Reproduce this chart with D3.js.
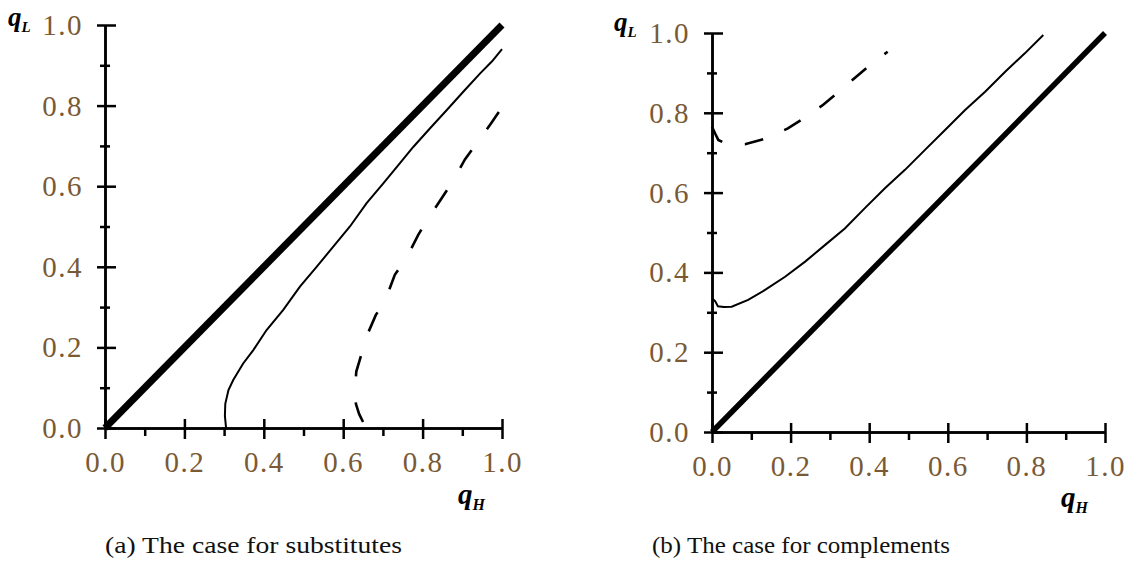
<!DOCTYPE html>
<html>
<head>
<meta charset="utf-8">
<script src="https://cdn.jsdelivr.net/npm/d3@7/dist/d3.min.js"></script>
<style>
    body { margin: 0; background: #fff; }
    .tick text { font-family: "Liberation Serif", serif; font-size: 29px; letter-spacing: 1.5px; fill: #7a5a35; }
    .qlab { font-family: "Liberation Serif", serif; font-weight: bold; font-style: italic; fill: #000; }
    .caption { font-family: "Liberation Serif", serif; font-size: 24px; fill: #111; }
</style>
</head>
<body>
<svg id="chart" width="1129" height="575"></svg>
<script>
/* Two panels of q_L against q_H.
 * (a) substitutes, (b) complements.
 * Each panel has the 45 degree line (thick), one solid curve and one dashed curve.
 */

var majorTicks = [0, 0.2, 0.4, 0.6, 0.8, 1.0];
var minorTicks = [0.1, 0.3, 0.5, 0.7, 0.9];
var tickLabels = ["0.0", "0.2", "0.4", "0.6", "0.8", "1.0"];

// 45 degree line, both panels
var diagH = [0, 1];
var diagL = [0, 1];

// (a) substitutes
var subsSolidH = [0.305, 0.302, 0.303, 0.311, 0.323, 0.348, 0.374, 0.407, 0.449, 0.491, 0.533, 0.575, 0.617, 0.659, 0.701, 0.743, 0.777, 0.82, 0.861, 0.903, 0.945, 0.975, 1.0];
var subsSolidL = [0.0, 0.03, 0.06, 0.094, 0.119, 0.16, 0.194, 0.243, 0.293, 0.351, 0.40, 0.45, 0.50, 0.558, 0.607, 0.657, 0.698, 0.745, 0.789, 0.835, 0.88, 0.91, 0.94];
var subsDashH = [0.65, 0.64, 0.632, 0.630, 0.633, 0.645, 0.657, 0.682, 0.708, 0.730, 0.760, 0.789, 0.810, 0.848, 0.877, 0.907, 0.936, 0.974, 1.0];
var subsDashL = [0.015, 0.035, 0.06, 0.10, 0.14, 0.18, 0.223, 0.280, 0.322, 0.380, 0.423, 0.479, 0.514, 0.570, 0.614, 0.667, 0.706, 0.758, 0.796];

// (b) complements
var compSolidH = [0.0, 0.008, 0.015, 0.03, 0.05, 0.092, 0.135, 0.186, 0.237, 0.288, 0.338, 0.389, 0.44, 0.491, 0.542, 0.593, 0.644, 0.695, 0.746, 0.796, 0.843];
var compSolidL = [0.335, 0.328, 0.315, 0.313, 0.314, 0.331, 0.356, 0.389, 0.427, 0.469, 0.51, 0.561, 0.611, 0.657, 0.707, 0.757, 0.807, 0.853, 0.903, 0.949, 0.995];
var compDashH = [0.0, 0.008, 0.016, 0.03, 0.05, 0.084, 0.139, 0.193, 0.237, 0.283, 0.323, 0.364, 0.41, 0.447];
var compDashL = [0.765, 0.748, 0.732, 0.725, 0.721, 0.721, 0.736, 0.761, 0.788, 0.82, 0.853, 0.888, 0.926, 0.953];

var svg = d3.select("#chart");

function zip(xs, ys) {
    return xs.map(function(x, i) { return [x, ys[i]]; });
}

/* Draw one panel. p holds the pixel box and the curves. */
function drawPanel(p) {
    var x = d3.scaleLinear().domain([0, 1]).range([p.x0, p.x1]);
    var y = d3.scaleLinear().domain([0, 1]).range([p.y0, p.y1]);
    var g = svg.append("g");

    var line = d3.line()
        .x(function(d) { return x(d[0]); })
        .y(function(d) { return y(d[1]); });

    // axes: major ticks cross the line, minor ticks are short
    var xAxis = g.append("g").attr("transform", "translate(0," + p.y0 + ")")
        .call(d3.axisBottom(x).tickValues(majorTicks).tickFormat(function(d, i) { return tickLabels[i]; }).tickSizeOuter(0));
    xAxis.selectAll(".tick line").attr("y1", -9).attr("y2", 11).attr("stroke-width", 2.5);
    xAxis.selectAll(".tick text").attr("y", 44).attr("dy", 0);

    var xMinor = g.append("g").attr("transform", "translate(0," + p.y0 + ")")
        .call(d3.axisBottom(x).tickValues(minorTicks).tickFormat("").tickSize(8).tickSizeOuter(0));
    xMinor.selectAll(".tick line").attr("stroke-width", 2.5);

    var yAxis = g.append("g").attr("transform", "translate(" + p.x0 + ",0)")
        .call(d3.axisLeft(y).tickValues(majorTicks).tickFormat(function(d, i) { return tickLabels[i]; }).tickSizeOuter(0));
    yAxis.selectAll(".tick line").attr("x1", -8).attr("x2", 11).attr("stroke-width", 2.5);
    yAxis.selectAll(".tick text").attr("x", -22).attr("dy", "0.33em");

    var yMinor = g.append("g").attr("transform", "translate(" + p.x0 + ",0)")
        .call(d3.axisLeft(y).tickValues(minorTicks).tickFormat("").tickSizeOuter(0));
    yMinor.selectAll(".tick line").attr("x1", -5).attr("x2", 5).attr("stroke-width", 2.5);

    g.selectAll(".domain").attr("stroke-width", 2.5).attr("stroke", "#000");
    g.selectAll(".tick line").attr("stroke", "#000");

    // curves
    g.append("path").datum(zip(diagH, diagL))
        .attr("d", line).attr("fill", "none").attr("stroke", "#000")
        .attr("stroke-width", p.diagWidth);

    g.append("path").datum(zip(p.solidH, p.solidL))
        .attr("d", line).attr("fill", "none").attr("stroke", "#000")
        .attr("stroke-width", 2);

    g.append("path").datum(zip(p.dashH, p.dashL))
        .attr("d", line).attr("fill", "none").attr("stroke", "#000")
        .attr("stroke-width", 2.6).attr("stroke-dasharray", p.dash);

    // axis titles
    var ql = g.append("text").attr("class", "qlab").attr("x", p.qL[0]).attr("y", p.qL[1]);
    ql.append("tspan").attr("font-size", 27).text("q");
    ql.append("tspan").attr("font-size", 15).attr("dy", 6).text("L");

    var qh = g.append("text").attr("class", "qlab").attr("x", p.qH[0]).attr("y", p.qH[1]);
    qh.append("tspan").attr("font-size", 29).text("q");
    qh.append("tspan").attr("font-size", 16).attr("dy", 6).text("H");

    g.append("text").attr("class", "caption")
        .attr("x", p.cap[0]).attr("y", p.cap[1])
        .attr("textLength", p.capWidth).attr("lengthAdjust", "spacingAndGlyphs")
        .text(p.caption);
}

drawPanel({
    x0: 105, x1: 502, y0: 428, y1: 25, diagWidth: 7,
    solidH: subsSolidH, solidL: subsSolidL,
    dashH: subsDashH, dashL: subsDashL, dash: "21,26",
    qL: [8, 26], qH: [458, 504], cap: [105, 553], capWidth: 297,
    caption: "(a) The case for substitutes"
});

drawPanel({
    x0: 712, x1: 1105, y0: 432, y1: 33, diagWidth: 5.5,
    solidH: compSolidH, solidL: compSolidL,
    dashH: compDashH, dashL: compDashL, dash: "19,23",
    qL: [614, 31], qH: [1061, 507], cap: [652, 553], capWidth: 298,
    caption: "(b) The case for complements"
});
</script>
</body>
</html>
